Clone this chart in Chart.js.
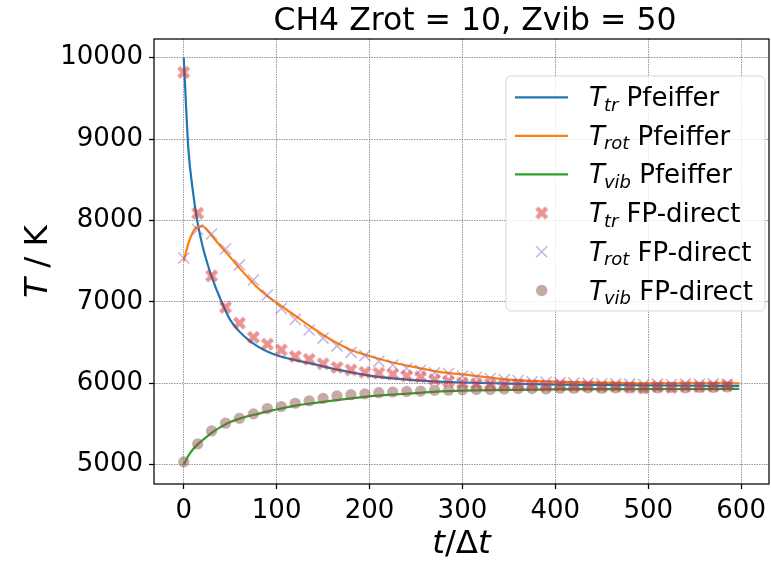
<!DOCTYPE html>
<html><head><meta charset="utf-8">
<script src="https://cdn.jsdelivr.net/npm/chart.js@4.4.0/dist/chart.umd.min.js"></script>
<style>html,body{margin:0;padding:0;background:#fff;}#wrap{width:771px;height:562px;}</style>
</head><body><div id="wrap"><canvas id="c" width="771" height="562"></canvas></div>
<script>
// ---- data ----
const titleText = 'CH4 Zrot = 10, Zvib = 50';
const xTicks = [0, 100, 200, 300, 400, 500, 600];
const yTicks = [5000, 6000, 7000, 8000, 9000, 10000];

const lineT = [0,5,10,15,20,25,30,40,50,60,70,80,90,100,120,140,160,180,200,225,250,275,300,350,400,450,500,550,598];
const trPfeiffer  = [10000,8880,8350,7970,7700,7490,7310,7020,6780,6635,6530,6450,6390,6345,6285,6235,6180,6135,6095,6060,6035,6020,6010,5995,5985,5980,5975,5970,5968];
const rotPfeiffer = [7500,7720,7860,7925,7930,7885,7815,7680,7550,7415,7290,7170,7070,6990,6830,6670,6525,6410,6335,6255,6195,6140,6110,6045,6020,6008,6000,6000,6000];
const vibPfeiffer = [5000,5110,5190,5250,5300,5345,5390,5465,5525,5565,5600,5625,5655,5678,5725,5757,5787,5815,5840,5862,5880,5900,5910,5918,5925,5928,5930,5930,5932];

const fpT = [0,15,30,45,60,75,90,105,120,135,150,165,180,195,210,225,240,255,270,285,300,315,330,345,360,375,390,405,420,435,450,465,480,495,510,525,540,555,570,585];
const trFP  = [9820,8090,7320,6935,6740,6565,6480,6410,6330,6295,6240,6195,6165,6135,6125,6110,6090,6080,6045,6025,6005,5995,5990,5980,5985,5975,5970,5975,5965,5970,5960,5965,5955,5945,5960,5950,5965,5960,5965,5975];
const rotFP = [7540,7890,7835,7650,7455,7270,7085,6920,6785,6655,6555,6460,6380,6340,6270,6225,6185,6160,6130,6120,6090,6075,6060,6045,6035,6020,6015,6010,6005,6000,5995,5995,5990,5985,5990,5985,5995,5990,5995,5990];
const vibFP = [5035,5255,5415,5510,5570,5625,5690,5715,5755,5785,5815,5845,5860,5870,5885,5893,5900,5905,5915,5915,5920,5925,5925,5930,5935,5935,5930,5940,5940,5945,5940,5945,5945,5940,5945,5950,5945,5950,5950,5955];

// ---- styling ----
const C_BLUE = '#1f77b4', C_ORANGE = '#ff7f0e', C_GREEN = '#2ca02c';
const C_RED_A = 'rgba(214,39,40,0.5)', C_PURPLE_A = 'rgba(148,103,189,0.5)', C_BROWN_A = 'rgba(140,86,75,0.5)';
const FONT = '"DejaVu Sans", Verdana, sans-serif';

function pts(xs, ys) { return xs.map((x, i) => ({x: x, y: ys[i]})); }

// filled "X" marker image
function makeXMarker(size, color) {
  const c = document.createElement('canvas');
  c.width = size + 4; c.height = size + 4;
  const g = c.getContext('2d');
  const o = 2 + size * 0.12, e = 2 + size * 0.88;
  g.beginPath();
  g.moveTo(o, o); g.lineTo(e, e);
  g.moveTo(e, o); g.lineTo(o, e);
  g.lineWidth = size * 0.34;
  g.lineCap = 'butt';
  g.strokeStyle = color;
  g.stroke();
  return c;
}
const xMarker = makeXMarker(13, C_RED_A);

function drawParts(ctx, x, y, parts) {
  let cx = x;
  for (const p of parts) {
    ctx.font = p.font;
    ctx.fillText(p.text, cx, y + (p.dy || 0));
    cx += ctx.measureText(p.text).width + (p.after || 0);
  }
  return cx - x;
}
function partsWidth(ctx, parts) {
  let w = 0;
  for (const p of parts) { ctx.font = p.font; w += ctx.measureText(p.text).width + (p.after || 0); }
  return w;
}

const overlay = {
  id: 'overlay',
  afterDraw(chart) {
    const ctx = chart.ctx, a = chart.chartArea;
    ctx.save();
    // spines
    ctx.strokeStyle = '#000'; ctx.lineWidth = 1.25;
    ctx.strokeRect(a.left, a.top, a.right - a.left, a.bottom - a.top);
    ctx.fillStyle = '#000';
    ctx.textBaseline = 'alphabetic';
    // title
    ctx.font = '31.5px ' + FONT;
    ctx.textAlign = 'center';
    ctx.fillText(titleText, 475, 29.5);
    ctx.textAlign = 'left';
    // x label  t/Δt
    const xl = [
      {text: 't', font: 'italic 32.5px ' + FONT},
      {text: '/', font: '32.5px ' + FONT},
      {text: 'Δ', font: '32.5px ' + FONT},
      {text: 't', font: 'italic 32.5px ' + FONT}
    ];
    const xw = partsWidth(ctx, xl);
    drawParts(ctx, (a.left + a.right) / 2 - xw / 2, 553, xl);
    // y label  T / K
    const yl = [
      {text: 'T', font: 'italic 32.5px ' + FONT},
      {text: ' / K', font: '32.5px ' + FONT}
    ];
    const yw = partsWidth(ctx, yl);
    ctx.save();
    ctx.translate(47, (a.top + a.bottom) / 2);
    ctx.rotate(-Math.PI / 2);
    drawParts(ctx, -yw / 2, 0, yl);
    ctx.restore();

    // legend
    const lx = 506, ly = 76, lw = 259, lh = 235, r = 5;
    ctx.beginPath();
    ctx.moveTo(lx + r, ly);
    ctx.arcTo(lx + lw, ly, lx + lw, ly + lh, r);
    ctx.arcTo(lx + lw, ly + lh, lx, ly + lh, r);
    ctx.arcTo(lx, ly + lh, lx, ly, r);
    ctx.arcTo(lx, ly, lx + lw, ly, r);
    ctx.closePath();
    ctx.fillStyle = 'rgba(255,255,255,0.8)';
    ctx.fill();
    ctx.strokeStyle = 'rgba(204,204,204,0.8)';
    ctx.lineWidth = 1;
    ctx.stroke();

    const rows = [97.3, 135.8, 174.3, 213, 251.8, 290.5];
    const subs = ['tr', 'rot', 'vib', 'tr', 'rot', 'vib'];
    const names = [' Pfeiffer', ' Pfeiffer', ' Pfeiffer', ' FP-direct', ' FP-direct', ' FP-direct'];
    const lineColors = [C_BLUE, C_ORANGE, C_GREEN];
    for (let i = 0; i < 6; i++) {
      const y = rows[i];
      if (i < 3) {
        ctx.beginPath();
        ctx.moveTo(515, y); ctx.lineTo(568, y);
        ctx.strokeStyle = lineColors[i]; ctx.lineWidth = 2.2; ctx.lineCap = 'butt';
        ctx.stroke();
      } else if (i === 3) {
        ctx.drawImage(xMarker, 541.7 - xMarker.width / 2, y - xMarker.height / 2);
      } else if (i === 4) {
        const d = 5.5;
        ctx.beginPath();
        ctx.moveTo(541.7 - d, y - d); ctx.lineTo(541.7 + d, y + d);
        ctx.moveTo(541.7 + d, y - d); ctx.lineTo(541.7 - d, y + d);
        ctx.strokeStyle = C_PURPLE_A; ctx.lineWidth = 1.5;
        ctx.stroke();
      } else {
        ctx.beginPath();
        ctx.arc(541.7, y, 5.7, 0, Math.PI * 2);
        ctx.fillStyle = C_BROWN_A;
        ctx.fill();
      }
      ctx.fillStyle = '#000';
      drawParts(ctx, 589, y + 9, [
        {text: 'T', font: 'italic 26px ' + FONT, after: -1},
        {text: subs[i], font: 'italic 18px ' + FONT, dy: 4.5},
        {text: names[i], font: '26px ' + FONT}
      ]);
    }
    ctx.restore();
  }
};

const gridColor = 'rgba(0,0,0,0.4)';
new Chart(document.getElementById('c'), {
  type: 'scatter',
  data: {
    datasets: [
      {label: 'Ttr Pfeiffer', data: pts(lineT, trPfeiffer), showLine: true, borderColor: C_BLUE, borderWidth: 2.2, pointRadius: 0, cubicInterpolationMode: 'monotone', order: 2.3},
      {label: 'Trot Pfeiffer', data: pts(lineT, rotPfeiffer), showLine: true, borderColor: C_ORANGE, borderWidth: 2.2, pointRadius: 0, cubicInterpolationMode: 'monotone', order: 2.2},
      {label: 'Tvib Pfeiffer', data: pts(lineT, vibPfeiffer), showLine: true, borderColor: C_GREEN, borderWidth: 2.2, pointRadius: 0, cubicInterpolationMode: 'monotone', order: 2.1},
      {label: 'Ttr FP-direct', data: pts(fpT, trFP), showLine: false, pointStyle: xMarker, pointRadius: 7, order: 1.3},
      {label: 'Trot FP-direct', data: pts(fpT, rotFP), showLine: false, pointStyle: 'crossRot', pointRadius: 7.8, borderColor: C_PURPLE_A, borderWidth: 1.5, backgroundColor: C_PURPLE_A, order: 1.2},
      {label: 'Tvib FP-direct', data: pts(fpT, vibFP), showLine: false, pointStyle: 'circle', pointRadius: 5.6, borderWidth: 0, backgroundColor: C_BROWN_A, order: 1.1}
    ]
  },
  options: {
    responsive: false,
    animation: false,
    devicePixelRatio: 1,
    layout: {autoPadding: false, padding: {top: 39, right: 2, left: 0, bottom: 0}},
    plugins: {legend: {display: false}, tooltip: {enabled: false}, title: {display: false}},
    elements: {point: {hoverRadius: 0}},
    scales: {
      x: {
        type: 'linear', min: -32, max: 630,
        afterBuildTicks: (s) => { s.ticks = xTicks.map(v => ({value: v})); },
        afterFit: (s) => { s.height = 78; s.paddingLeft = 0; s.paddingRight = 0; },
        ticks: {font: {family: FONT, size: 26}, color: '#000', padding: 7, maxRotation: 0, autoSkip: false},
        grid: {color: gridColor, lineWidth: 1, tickColor: '#000', tickWidth: 1.25, tickLength: 5},
        border: {display: false, dash: [1.5, 1]}
      },
      y: {
        type: 'linear', min: 4763, max: 10230,
        afterBuildTicks: (s) => { s.ticks = yTicks.map(v => ({value: v})); },
        afterFit: (s) => { s.width = 154; s.paddingTop = 0; s.paddingBottom = 0; },
        ticks: {font: {family: FONT, size: 26}, color: '#000', padding: 6, callback: (v) => String(v)},
        grid: {color: gridColor, lineWidth: 1, tickColor: '#000', tickWidth: 1.25, tickLength: 5},
        border: {display: false, dash: [1.5, 1]}
      }
    }
  },
  plugins: [overlay]
});
</script>
</body></html>
